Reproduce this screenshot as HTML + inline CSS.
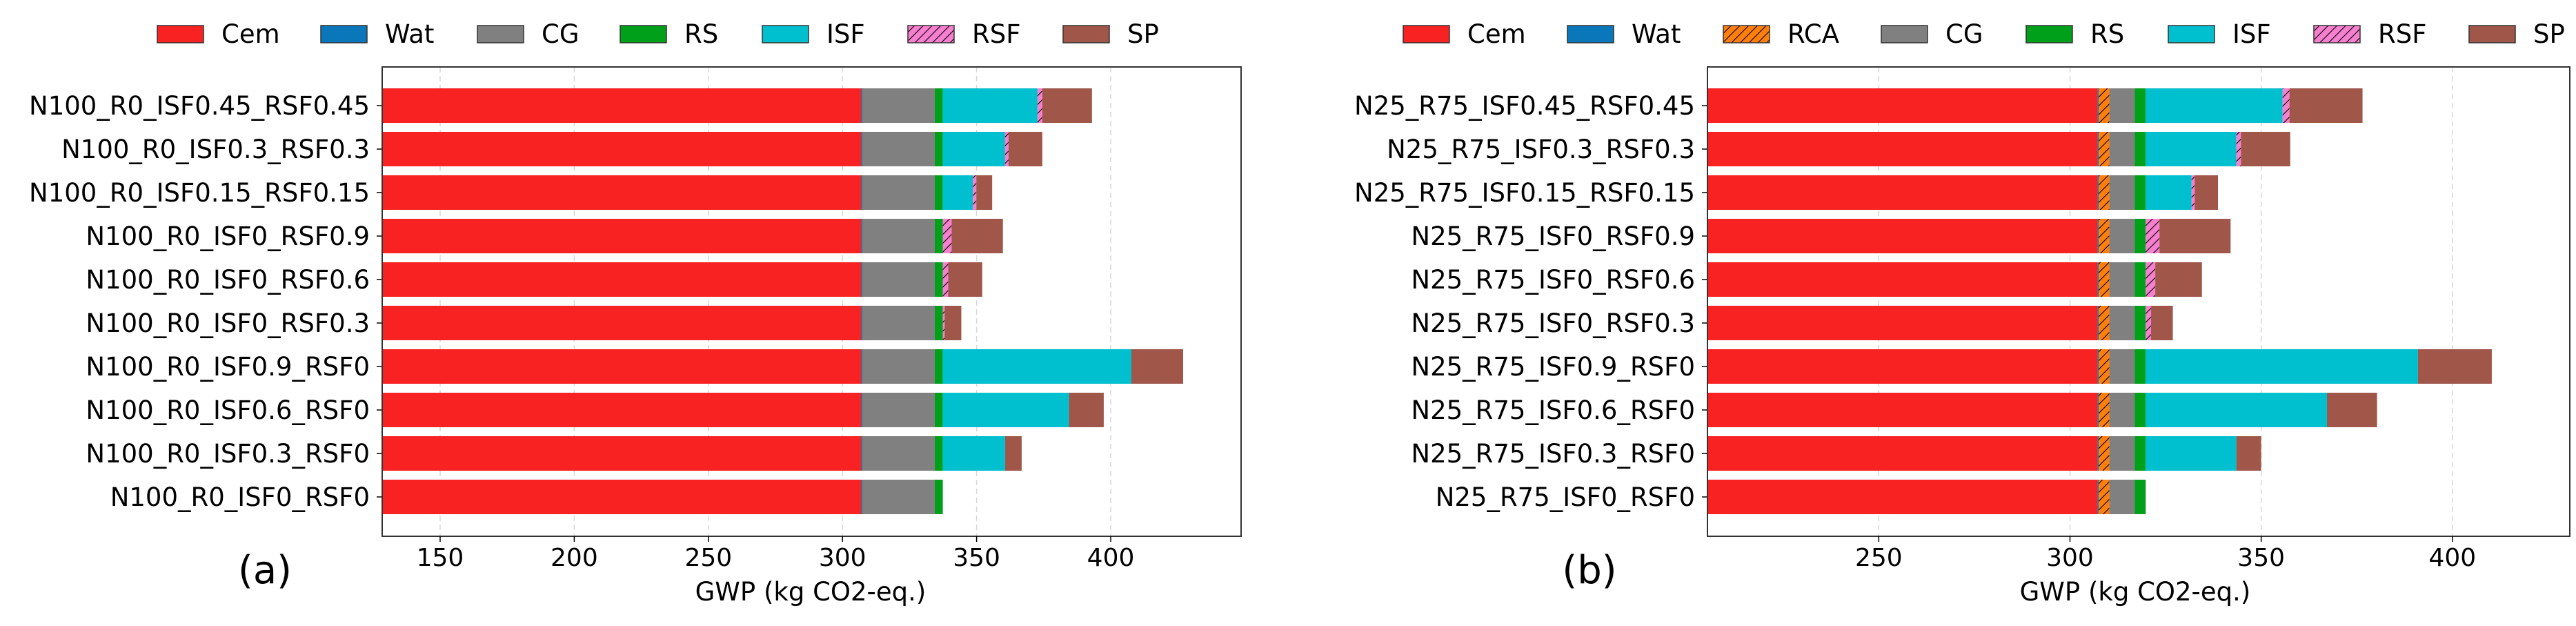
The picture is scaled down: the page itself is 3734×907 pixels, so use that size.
<!DOCTYPE html>
<html><head><meta charset="utf-8">
<style>
html,body{margin:0;padding:0;background:#fff;}
svg{display:block;font-family:"DejaVu Sans","Liberation Sans",sans-serif;}
</style></head>
<body>
<svg id="chart" width="3734" height="907" viewBox="0 0 3734 907" xmlns="http://www.w3.org/2000/svg">
<defs>
<pattern id="hatch-rca" patternUnits="userSpaceOnUse" width="9" height="9" patternTransform="rotate(45)">
<rect width="9" height="9" fill="#ff7f0e"/><line x1="0" y1="0" x2="0" y2="9" stroke="#000" stroke-width="2.2"/>
</pattern>
<pattern id="hatch-rsf" patternUnits="userSpaceOnUse" width="9" height="9" patternTransform="rotate(45)">
<rect width="9" height="9" fill="#f77fd0"/><line x1="0" y1="0" x2="0" y2="9" stroke="#000" stroke-width="2.2"/>
</pattern>
</defs>
<g id="panel-a"></g>
<g id="panel-b"></g>
</svg>
<script>
// ---- Panel (a) data ----
const catsA = ["N100_R0_ISF0.45_RSF0.45","N100_R0_ISF0.3_RSF0.3","N100_R0_ISF0.15_RSF0.15","N100_R0_ISF0_RSF0.9","N100_R0_ISF0_RSF0.6","N100_R0_ISF0_RSF0.3","N100_R0_ISF0.9_RSF0","N100_R0_ISF0.6_RSF0","N100_R0_ISF0.3_RSF0","N100_R0_ISF0_RSF0"];
const cemA = [307,307,307,307,307,307,307,307,307,307];
const watA = [0.4,0.4,0.4,0.4,0.4,0.4,0.4,0.4,0.4,0.4];
const cgA  = [27,27,27,27,27,27,27,27,27,27];
const rsA  = [3,3,3,3,3,3,3,3,3,3];
const isfA = [35.3,23.2,11.2,0,0,0,70.3,47,23.2,0];
const rsfA = [1.8,1.3,1.3,3.3,2,0.7,0,0,0,0];
const spA  = [18.5,12.6,5.9,19.1,12.7,6.2,19.3,13,6.2,0];
const ticksA = [150,200,250,300,350,400];
// ---- Panel (b) data ----
const catsB = ["N25_R75_ISF0.45_RSF0.45","N25_R75_ISF0.3_RSF0.3","N25_R75_ISF0.15_RSF0.15","N25_R75_ISF0_RSF0.9","N25_R75_ISF0_RSF0.6","N25_R75_ISF0_RSF0.3","N25_R75_ISF0.9_RSF0","N25_R75_ISF0.6_RSF0","N25_R75_ISF0.3_RSF0","N25_R75_ISF0_RSF0"];
const cemB = [307.2,307.2,307.2,307.2,307.2,307.2,307.2,307.2,307.2,307.2];
const watB = [0.3,0.3,0.3,0.3,0.3,0.3,0.3,0.3,0.3,0.3];
const rcaB = [2.8,2.8,2.8,2.8,2.8,2.8,2.8,2.8,2.8,2.8];
const cgB  = [6.6,6.6,6.6,6.6,6.6,6.6,6.6,6.6,6.6,6.6];
const rsB  = [2.9,2.9,2.9,2.9,2.9,2.9,2.9,2.9,2.9,2.9];
const isfB = [35.8,23.7,12,0,0,0,71.2,47.4,23.7,0];
const rsfB = [1.8,1.2,0.8,3.6,2.5,1.4,0,0,0,0];
const spB  = [19.1,12.9,6.1,18.6,12.2,5.7,19.3,13.1,6.5,0];
const ticksB = [250,300,350,400];

const NS = "http://www.w3.org/2000/svg";
function mk(parent, tag, attrs, text){
  const e = document.createElementNS(NS, tag);
  for (const k in attrs) e.setAttribute(k, attrs[k]);
  if (text !== undefined) e.textContent = text;
  parent.appendChild(e);
  return e;
}
const COL = {Cem:"#f82222",Wat:"#0a77ba",RCA:"url(#hatch-rca)",CG:"#808080",RS:"#00a01a",ISF:"#00bfcf",RSF:"url(#hatch-rsf)",SP:"#a0574a"};

function drawPanel(g, cfg){
  const {left,right,top,bottom,xmin,xmax,cats,series,ticks,legendX,letter,letterX,labelCx} = cfg;
  const xs = v => left + (v - xmin) / (xmax - xmin) * (right - left);
  const c0 = 153, pitch = 63, bh = 50;
  const ys = i => c0 + i * pitch;
  // grid
  ticks.forEach(t => {
    const l = mk(g, "line", {x1:xs(t),x2:xs(t),y1:top,y2:bottom,stroke:"#d8d8d8","stroke-width":1.5,"stroke-dasharray":"8,5"});
    
    
  });
  // bars
  cats.forEach((c, i) => {
    let acc = xmin < 0 ? 0 : 0;
    series.forEach(s => {
      const v = s.vals[i];
      if (v > 0) {
        const x0 = xs(acc), x1 = xs(acc + v);
        const cx0 = Math.max(x0, left);
        const r = mk(g, "rect", {x:cx0, y:ys(i)-bh/2, width:Math.max(x1-cx0,0), height:bh, fill:COL[s.name]});
        
        
      }
      acc += v;
    });
    const tk = mk(g, "line", {x1:left-8,x2:left,y1:ys(i),y2:ys(i),stroke:"#000","stroke-width":1.5});
    
    
    const lb = mk(g, "text", {x:left-18,y:ys(i)+13,"text-anchor":"end","font-size":37,fill:"#000"}, c);
    
    
  });
  // frame
  const fr = mk(g, "rect", {x:left,y:top,width:right-left,height:bottom-top,fill:"none",stroke:"#333","stroke-width":2});
  
  
  ticks.forEach(t => {
    const l = mk(g, "line", {x1:xs(t),x2:xs(t),y1:bottom,y2:bottom+8,stroke:"#000","stroke-width":1.5});
    
    
    const tl = mk(g, "text", {x:xs(t),y:820,"text-anchor":"middle","font-size":36,fill:"#000"}, String(t));
    
    
  });
  const xl = mk(g, "text", {x:labelCx,y:870,"text-anchor":"middle","font-size":37,fill:"#000"}, "GWP (kg CO2-eq.)");
  
  
  const pl = mk(g, "text", {x:letterX,y:845,"text-anchor":"middle","font-size":56,fill:"#000"}, letter);
  
  
  // legend
  series.forEach((s, k) => {
    const lx = legendX[k];
    const p = mk(g, "rect", {x:lx,y:37,width:67,height:25,fill:COL[s.name],stroke:"#333","stroke-width":1.5});
    
    
    const t = mk(g, "text", {x:lx+93,y:62,"font-size":37,fill:"#000"}, s.name);
    
    
  });
}

drawPanel(document.getElementById("panel-a"), {
  left:554,right:1799,top:97,bottom:777,xmin:128.4,xmax:448.6,cats:catsA,
  series:[{name:"Cem",vals:cemA},{name:"Wat",vals:watA},{name:"CG",vals:cgA},{name:"RS",vals:rsA},{name:"ISF",vals:isfA},{name:"RSF",vals:rsfA},{name:"SP",vals:spA}],
  ticks:ticksA, legendX:[228,465,692,899,1105,1316,1541], letter:"(a)", letterX:384, labelCx:1175
});
drawPanel(document.getElementById("panel-b"), {
  left:2475,right:3725,top:97,bottom:777,xmin:205.2,xmax:430.7,cats:catsB,
  series:[{name:"Cem",vals:cemB},{name:"Wat",vals:watB},{name:"RCA",vals:rcaB},{name:"CG",vals:cgB},{name:"RS",vals:rsB},{name:"ISF",vals:isfB},{name:"RSF",vals:rsfB},{name:"SP",vals:spB}],
  ticks:ticksB, legendX:[2034,2272,2498,2727,2937,3143,3354,3579], letter:"(b)", letterX:2304, labelCx:3095
});
</script>
</body></html>
